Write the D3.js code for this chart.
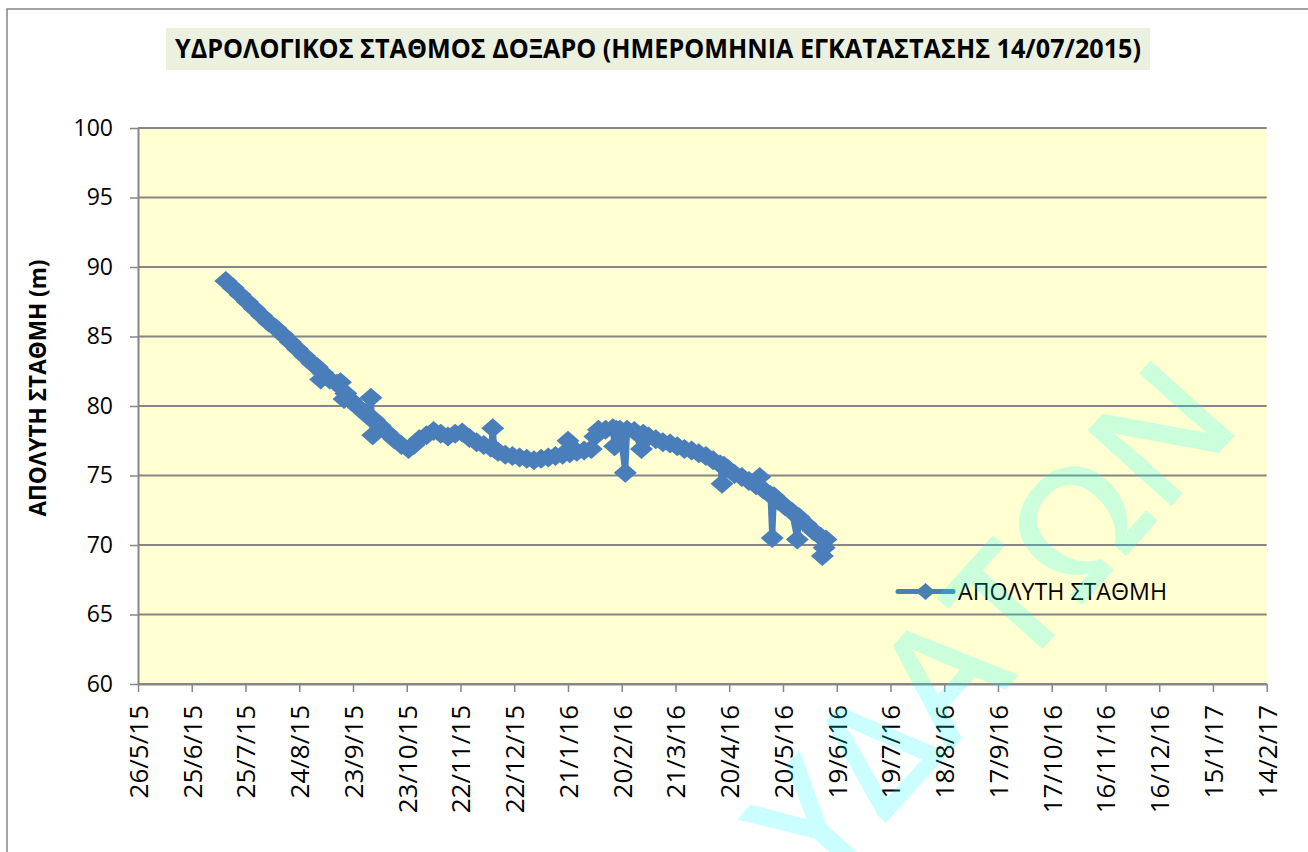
<!DOCTYPE html>
<html lang="el">
<head>
<meta charset="UTF-8">
<title>ΥΔΡΟΛΟΓΙΚΟΣ ΣΤΑΘΜΟΣ ΔΟΞΑΡΟ</title>
<script src="https://d3js.org/d3.v7.min.js"></script>
<style>
    body { margin: 0; background: #fff; overflow: hidden; }
    .tick text { font-family: "Open Sans", sans-serif; fill: #000; }
    .title { font-family: "Open Sans", sans-serif; font-weight: bold; font-size: 27px; }
    .axis-label { font-family: "Open Sans", sans-serif; font-weight: bold; font-size: 23px; }
    .legend-text { font-family: "Open Sans", sans-serif; font-size: 23px; }
</style>
</head>
<body>
<svg width="1308" height="852"></svg>
<script>
    // x axis: dates every 30 days, as in the sheet
    const xStart = "2015-05-26";
    const xEnd = "2017-02-14";
    const tickDates = ["2015-05-26","2015-06-25","2015-07-25","2015-08-24","2015-09-23","2015-10-23",
        "2015-11-22","2015-12-22","2016-01-21","2016-02-20","2016-03-21","2016-04-20","2016-05-20",
        "2016-06-19","2016-07-19","2016-08-18","2016-09-17","2016-10-17","2016-11-16","2016-12-16",
        "2017-01-15","2017-02-14"];
    const yTicks = [60, 65, 70, 75, 80, 85, 90, 95, 100];

    const seriesName = "ΑΠΟΛΥΤΗ ΣΤΑΘΜΗ";
    const dates = ["2015-07-14","2015-07-18","2015-07-22","2015-07-26","2015-07-30","2015-08-03","2015-08-07",
        "2015-08-11","2015-08-15","2015-08-19","2015-08-23","2015-08-27","2015-08-31","2015-09-03","2015-09-05",
        "2015-09-06","2015-09-10","2015-09-14","2015-09-16","2015-09-18","2015-09-19","2015-09-22","2015-09-26",
        "2015-09-30","2015-10-02","2015-10-03","2015-10-04","2015-10-05","2015-10-08","2015-10-12","2015-10-16",
        "2015-10-20","2015-10-24","2015-10-27","2015-10-30","2015-11-03","2015-11-07","2015-11-11","2015-11-15",
        "2015-11-19","2015-11-23","2015-11-27","2015-12-01","2015-12-05","2015-12-09","2015-12-10","2015-12-11",
        "2015-12-13","2015-12-17","2015-12-21","2015-12-25","2015-12-29","2016-01-02","2016-01-06","2016-01-10",
        "2016-01-14","2016-01-18","2016-01-21","2016-01-22","2016-01-26","2016-01-30","2016-02-03","2016-02-05",
        "2016-02-07","2016-02-11","2016-02-15","2016-02-16","2016-02-17","2016-02-19","2016-02-22","2016-02-23",
        "2016-02-27","2016-03-02","2016-03-03","2016-03-06","2016-03-10","2016-03-14","2016-03-18","2016-03-22",
        "2016-03-26","2016-03-30","2016-04-03","2016-04-07","2016-04-11","2016-04-15","2016-04-16","2016-04-17",
        "2016-04-19","2016-04-23","2016-04-27","2016-05-01","2016-05-05","2016-05-07","2016-05-09","2016-05-13",
        "2016-05-14","2016-05-15","2016-05-17","2016-05-21","2016-05-25","2016-05-28","2016-05-29","2016-06-02",
        "2016-06-06","2016-06-10","2016-06-11","2016-06-12","2016-06-13"];
    const levels = [89.0, 88.5, 88.0, 87.5, 87.0, 86.5, 86.0,
        85.6, 85.1, 84.6, 84.1, 83.6, 83.1, 82.8, 81.9,
        82.4, 81.9, 81.6, 81.7, 80.5, 80.9, 80.4, 79.9,
        79.5, 79.2, 80.6, 77.9, 79.0, 78.6, 78.1, 77.6,
        77.2, 76.9, 77.2, 77.6, 77.9, 78.2, 78.0, 77.8,
        78.0, 78.1, 77.7, 77.4, 77.2, 77.0, 78.4, 76.9,
        76.7, 76.5, 76.4, 76.3, 76.2, 76.1, 76.2, 76.3,
        76.4, 76.5, 77.5, 76.6, 76.7, 76.8, 76.9, 77.8,
        78.3, 78.3, 78.4, 77.1, 78.3, 78.3, 75.2, 78.3,
        78.2, 76.9, 78.0, 77.8, 77.6, 77.4, 77.3, 77.1,
        76.9, 76.8, 76.6, 76.4, 76.1, 75.8, 74.4, 75.7,
        75.5, 75.1, 74.9, 74.6, 74.3, 74.9, 74.0, 73.6,
        70.5, 73.5, 73.2, 72.8, 72.4, 70.4, 72.0, 71.5,
        71.0, 70.6, 69.2, 69.8, 70.4];

    const parse = d3.timeParse("%Y-%m-%d");
    const data = dates.map((d, i) => ({ date: parse(d), value: levels[i] }));

    const plot = { left: 138, top: 128, right: 1266.7, bottom: 684 };
    const blue = "#4a7ebb";
    const grey = "#868686";

    const svg = d3.select("svg");

    // outer chart border (only top and left are inside the picture)
    svg.append("rect")
        .attr("x", 7).attr("y", 9)
        .attr("width", 1400).attr("height", 1000)
        .attr("fill", "none").attr("stroke", grey).attr("stroke-width", 1.5);

    // title
    svg.append("rect")
        .attr("x", 166).attr("y", 28).attr("width", 984).attr("height", 42)
        .attr("fill", "#ebf1de");
    svg.append("text")
        .attr("class", "title")
        .attr("x", 658).attr("y", 58)
        .attr("text-anchor", "middle")
        .attr("textLength", 966)
        .attr("lengthAdjust", "spacingAndGlyphs")
        .text("ΥΔΡΟΛΟΓΙΚΟΣ ΣΤΑΘΜΟΣ ΔΟΞΑΡΟ (ΗΜΕΡΟΜΗΝΙΑ ΕΓΚΑΤΑΣΤΑΣΗΣ 14/07/2015)");

    const x = d3.scaleTime()
        .domain([parse(xStart), parse(xEnd)])
        .range([plot.left, plot.right]);

    const y = d3.scaleLinear()
        .domain([60, 100])
        .range([plot.bottom, plot.top]);

    // plot area
    svg.append("rect")
        .attr("x", plot.left).attr("y", plot.top)
        .attr("width", plot.right - plot.left).attr("height", plot.bottom - plot.top)
        .attr("fill", "#ffffd2");

    svg.append("g")
        .selectAll("line")
        .data(yTicks)
        .join("line")
        .attr("x1", plot.left).attr("x2", plot.right)
        .attr("y1", d => y(d)).attr("y2", d => y(d))
        .attr("stroke", grey).attr("stroke-width", 2);

    const fmt = d => `${d.getDate()}/${d.getMonth() + 1}/${String(d.getFullYear()).slice(2)}`;

    const xAxis = svg.append("g")
        .attr("transform", `translate(0,${plot.bottom})`)
        .call(d3.axisBottom(x)
            .tickValues(tickDates.map(parse))
            .tickFormat(fmt)
            .tickSize(8)
            .tickSizeOuter(0));
    xAxis.select(".domain").attr("stroke", grey).attr("stroke-width", 2);
    xAxis.selectAll(".tick line").attr("stroke", grey).attr("stroke-width", 1.5);
    xAxis.selectAll("text")
        .attr("transform", "rotate(-90)")
        .attr("text-anchor", "end")
        .attr("x", -21)
        .attr("y", 0)
        .attr("dy", "0.36em")
        .style("font-size", "26px");

    const yAxis = svg.append("g")
        .attr("transform", `translate(${plot.left},0)`)
        .call(d3.axisLeft(y)
            .tickValues(yTicks)
            .tickSize(8)
            .tickPadding(17)
            .tickSizeOuter(0));
    yAxis.select(".domain").attr("stroke", grey).attr("stroke-width", 2);
    yAxis.selectAll(".tick line").attr("stroke", grey).attr("stroke-width", 1.5);
    yAxis.selectAll("text").style("font-size", "23px");

    svg.append("text")
        .attr("class", "axis-label")
        .attr("transform", "translate(46,388) rotate(-90)")
        .attr("text-anchor", "middle")
        .attr("textLength", 257)
        .attr("lengthAdjust", "spacingAndGlyphs")
        .text("ΑΠΟΛΥΤΗ ΣΤΑΘΜΗ (m)");

    // series
    const diamond = "M0,-10L11.5,0L0,10L-11.5,0Z";

    svg.append("path")
        .datum(data)
        .attr("fill", "none")
        .attr("stroke", blue)
        .attr("stroke-width", 6)
        .attr("stroke-linejoin", "round")
        .attr("d", d3.line().x(d => x(d.date)).y(d => y(d.value)));

    svg.append("g")
        .selectAll("path")
        .data(data)
        .join("path")
        .attr("transform", d => `translate(${x(d.date)},${y(d.value)})`)
        .attr("d", diamond)
        .attr("fill", blue);

    // legend
    const legend = svg.append("g").attr("transform", "translate(898,591.5)");
    legend.append("line")
        .attr("x1", 0).attr("x2", 55)
        .attr("stroke", blue).attr("stroke-width", 5).attr("stroke-linecap", "round");
    legend.append("path").attr("transform", "translate(27.5,0) scale(0.85)").attr("d", diamond).attr("fill", blue);
    legend.append("text")
        .attr("class", "legend-text")
        .attr("x", 60).attr("y", 8.5)
        .attr("textLength", 209)
        .attr("lengthAdjust", "spacingAndGlyphs")
        .text(seriesName);

    // watermark
    svg.append("text")
        .attr("transform", "translate(821,895) rotate(-48)")
        .attr("font-family", "Open Sans, sans-serif")
        .attr("font-size", 158)
        .attr("font-weight", 600)
        .attr("fill", "#00ffff")
        .attr("opacity", 0.2)
        .text("ΥΔΑΤΩΝ");
</script>
</body>
</html>
